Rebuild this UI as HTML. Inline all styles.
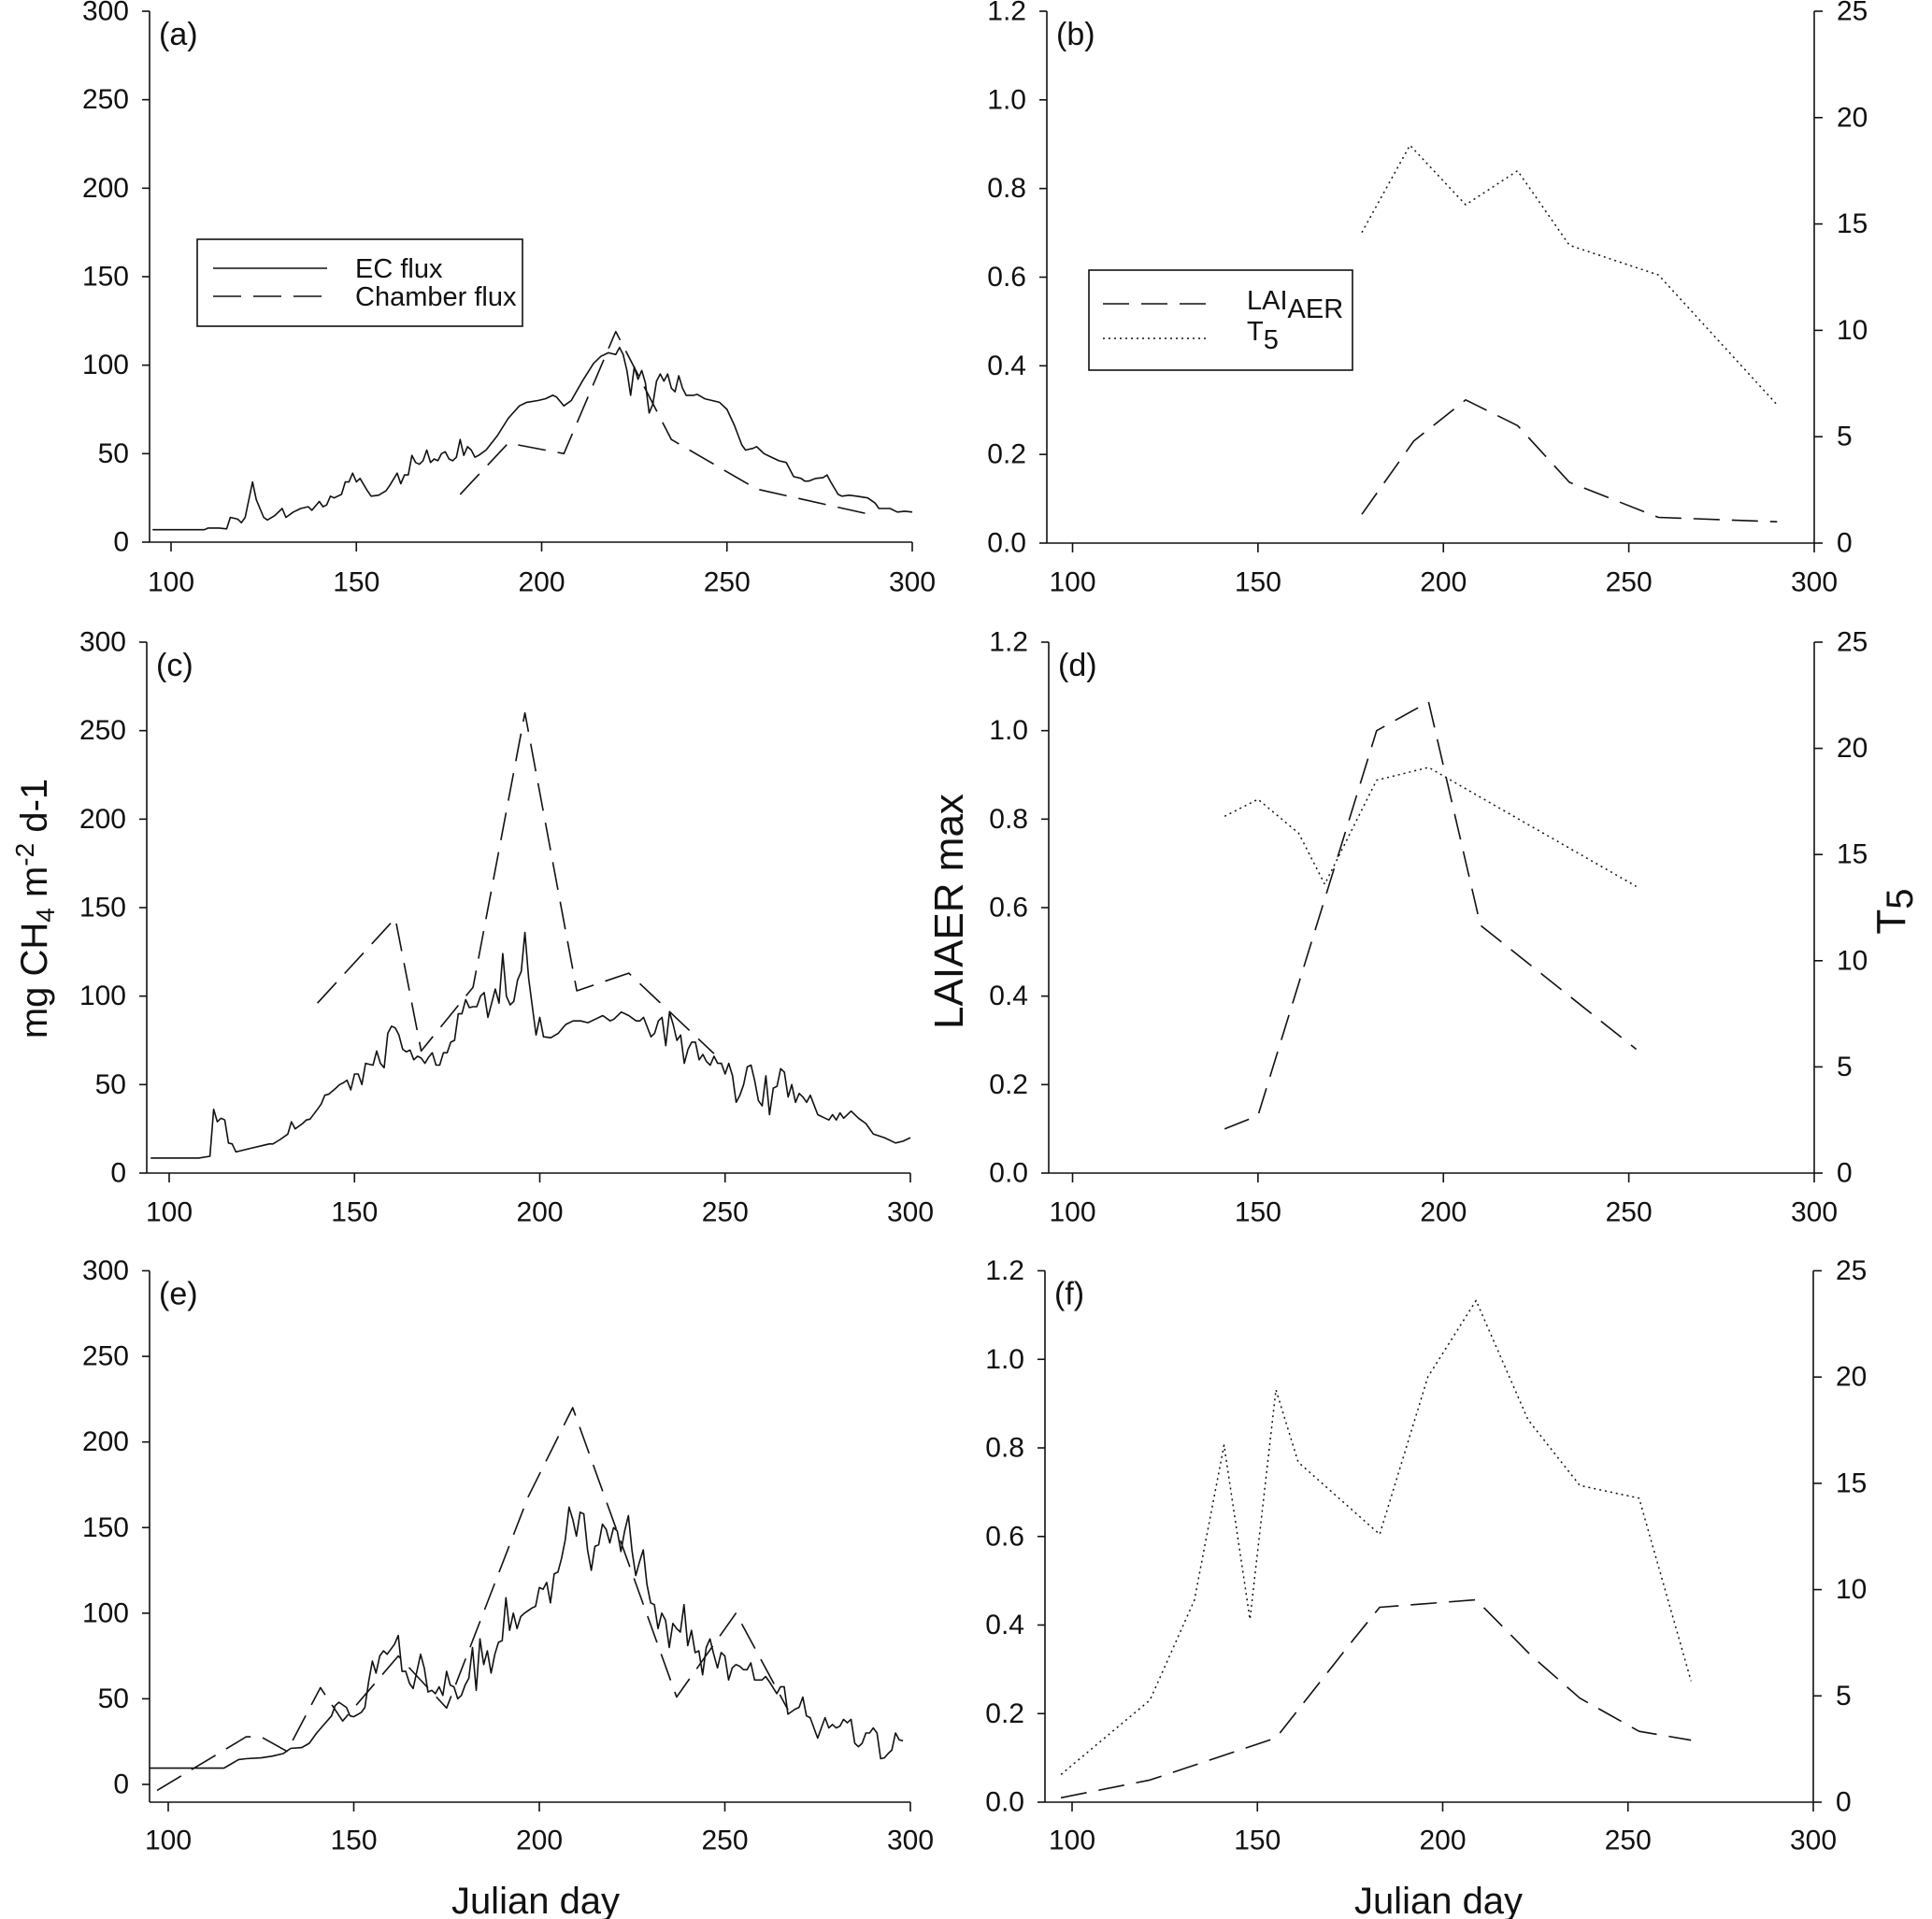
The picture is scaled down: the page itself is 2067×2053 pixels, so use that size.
<!DOCTYPE html>
<html><head><meta charset="utf-8"><title>CH4 flux, LAI and T5</title>
<style>
html,body{margin:0;padding:0;background:#fff;}
svg{display:block;font-family:"Liberation Sans",Arial,sans-serif;}
</style></head>
<body>
<svg id="fig" xmlns="http://www.w3.org/2000/svg" width="2067" height="2053" viewBox="0 0 2067 2053">
<rect x="0" y="0" width="2067" height="2053" fill="#fff"/>
<g id="layer"></g>
<text transform="translate(50,972) rotate(-90)" text-anchor="middle" font-size="40" fill="#111">mg CH<tspan font-size="28" dy="8">4</tspan><tspan dy="-8"> m</tspan><tspan font-size="28" dy="-14">-2</tspan><tspan dy="14"> d-1</tspan></text>
<text transform="translate(1030,975) rotate(-90)" text-anchor="middle" font-size="44" fill="#111">LAIAER max</text>
<text transform="translate(2038,975) rotate(-90)" text-anchor="middle" font-size="44" fill="#111">T<tspan font-size="40" dy="8">5</tspan></text>
<text x="573" y="2047" text-anchor="middle" font-size="40" fill="#111">Julian day</text>
<text x="1539" y="2047" text-anchor="middle" font-size="40" fill="#111">Julian day</text>
</svg>
<script>
// ---------- data ----------
const xTicks = [100,150,200,250,300];
const fluxTicks = [0,50,100,150,200,250,300];
const laiTicks = [0.0,0.2,0.4,0.6,0.8,1.0,1.2];
const laiTickLabels = ["0.0","0.2","0.4","0.6","0.8","1.0","1.2"];
const t5Ticks = [0,5,10,15,20,25];

// Panel (a)
const ecDaysA = [95,109,110,113,115,116,118,119,120,122,123,125,126,128,130,131,133,135,137,138,140,141,142,143,144,146,147,148,149,150,151,153,154,156,158,159,161,162,163,164,165,166,167,168,169,170,171,172,173,174,175,176,177,178,179,180,181,182,183,185,188,191,194,196,199,201,203,204,206,208,211,214,216,218,220,221,222,223,224,225,226,227,228,229,230,231,232,233,234,235,236,237,238,239,241,242,244,246,248,250,252,254,255,257,258,259,260,262,264,266,268,270,271,272,274,276,277,278,280,281,283,285,288,290,291,294,296,298,300];
const ecFluxA = [7,7,8,8,7.5,14,13,11,14,34,24,14,12.5,15,19,14,17,19,20,18,23,20,21,26,25,27,34,34,39,34,36,29,26,26.5,29,32,39,33,38,38,49,45,44,46,52,45,47,46,50,51,47,46,48,58,49,54,52,48,49,52,60,70,77,79,80,81,83,82,77,80,91,101,105,107,106,110,106,97,83,99,92,97,90,73,78,91,95,91,95,87,85,94,87,83,83,83.5,81,80,79,75,66,55,52,53,54,52,50,48,46,45,37,36,34.5,34.5,36,36.5,38,34,27,26,26.5,26,25,22,19,19,17,17.5,17];
const chDaysA = [178,191,206,220,235,258,290];
const chFluxA = [27,56,50,119,58,30,15];

// Panel (b)
const laiDaysB = [178,192,206,220,234,258,290];
const laiB = [0.065,0.23,0.323,0.265,0.137,0.058,0.048];
const t5DaysB = [178,191,206,220,234,258,290];
const t5B = [14.6,18.7,15.9,17.5,14.0,12.6,6.5];

// Panel (c)
const ecDaysC = [95,108,111,112,113,114,115,116,117,118,122,125,127,128,130,132,133,134,136,137,138,140,141,142,143,145,146,147,148,149,150,151,152,153,154,155,156,157,158,159,160,161,162,163,164,165,166,167,168,169,170,171,172,173,174,175,176,177,178,179,180,181,182,183,184,185,186,187,188,189,190,191,192,193,194,195,196,197,199,200,201,203,205,207,209,211,213,215,217,219,220,222,224,226,227,228,230,231,232,233,234,235,236,237,238,239,240,241,242,243,244,245,246,247,248,249,250,251,252,253,254,255,256,257,258,259,260,261,262,263,264,265,266,267,268,269,270,271,272,273,275,277,278,279,280,281,282,284,286,288,290,293,296,298,300];
const ecFluxC = [8.5,8.5,9.5,36,29,31,30,17,16.5,12,14,15.5,16.5,16.5,19,22,29,25,28,30,30.5,36,39,44,44.5,48,50,51,52.5,47,56,56,50,62,61.5,61,69,62,59.5,79,83,82,78,70,68.5,69.5,64,66,65,62,65.5,68,61,61,68,68,74,75,90,90,98,93.5,94,94,100,102,88,96,104,96,124,100,95,97,109,114,136,110,78,88,77,76.5,79,84,86,86,85,87,89,86,87,91,89,86,86,88,77,79,86,88,72,91,84,75,78,62,70,74,74,64,67,63,61,66,62,62,56,62,55,40,44,50,60,61,52,41,38,55,33,48,49,59,57,43,50,40,45,43,40,44,33,31,30,33,30,34,31,35,31,28,22,20,17,18,20];
const chDaysC = [140,161,168,182,196,210,224,247];
const chFluxC = [96,144,69,105,260,103,113,67.5];

// Panel (d)
const laiDaysD = [141,150,182,196,210,252];
const laiD = [0.10,0.13,1.0,1.065,0.56,0.28];
const t5DaysD = [141,150,161,168,182,196,210,252];
const t5D = [16.8,17.6,16.0,13.6,18.5,19.1,17.7,13.5];

// Panel (e)
const ecDaysE = [95,115,117,119,121,125,128,131,133,136,138,140,142,144,145,146,148,149,150,152,153,154,155,156,157,158,159,161,162,163,164,165,166,168,169,170,171,172,173,174,175,176,177,178,179,180,181,182,183,184,185,186,187,188,189,190,191,192,193,194,195,196,198,199,200,201,202,203,204,205,206,207,208,209,210,211,212,213,214,215,216,217,218,219,220,221,222,223,224,225,226,227,228,229,230,231,232,233,234,235,236,237,238,239,240,241,242,243,244,245,246,247,248,249,250,251,252,253,254,255,256,257,258,259,260,261,262,264,265,266,267,269,270,271,272,273,274,275,276,277,278,279,280,281,282,283,284,285,286,287,288,289,290,291,292,293,294,295,296,297,298];
const ecFluxE = [9.5,9.5,12,14.5,15,15.5,16.5,18,21,21.5,24,30,35,40,46,48,45,40,39.5,42,45,60,72,65,75,78,76,82,87,66,66,59,56,76,68,54,55,53,57,52,66,58,57,50,52,58,62,80,55,85,70,78,65,76,83,84,109,90,100,91,98,100,103,104,115,114,118,106,123,124,132,143,162,155,145,159,158,137,125,139,140,152,149,141,150,148,136,148,157,136,122,130,137,117,106,105,91,100,96,80,94,91,89,105,81,90,77,78,64,80,85,76,68,77,75,61,68,70,69,67,67,71,61,61,61,63,60,53,57,57,41,44,45,51,40,39,33,27,33,39,33,35,33,34,38,36,38,24,22,24,30,30,33,30,15,15.5,18,20,30,26,25.5];
const chDaysE = [97,121,125,132,141,147,162,175,197,209,237,253,267];
const chFluxE = [-3.5,27.8,27.8,19.3,56.5,37,75,44.6,168,220,51,100,43.6];

// Panel (f)
const laiDaysF = [97,121,155,176,183,209,224,237,253,267];
const laiF = [0.01,0.05,0.145,0.368,0.44,0.457,0.33,0.235,0.16,0.14];
const t5DaysF = [97,121,133,141,148,155,161,183,196,209,223,237,253,267];
const t5F = [1.3,4.8,9.5,16.8,8.6,19.4,16.0,12.6,20.0,23.6,18.0,14.9,14.3,5.7];

// ---------- drawing ----------
const NS = "http://www.w3.org/2000/svg";
const layer = document.getElementById('layer');
function mk(tag, attrs, parent){
  const e = document.createElementNS(NS, tag);
  for (const k in attrs) e.setAttribute(k, attrs[k]);
  (parent||layer).appendChild(e);
  return e;
}
function makePanel(p){
  const g = mk('g', {});
  
  
  p.g = g;
  p.sx = d => p.x100 + (d - 100) * (p.x300 - p.x100) / 200;
  p.sy = v => p.y0 - (v - p.ymin0) * (p.y0 - p.ytop) / (p.ymax - p.ymin0);
  if (p.right) p.sy2 = v => p.y0 - v * (p.y0 - p.ytop) / 25;
  const yAx = mk('line', {x1:p.ax, y1:p.ytop, x2:p.ax, y2:p.yaxb, stroke:'#111','stroke-width':1.6}, g);
  
  
  const xAx = mk('line', {x1:p.ax, y1:p.yaxb, x2:p.x300, y2:p.yaxb, stroke:'#111','stroke-width':1.6}, g);
  
  
  xTicks.forEach(t => {
    const x = p.sx(t);
    mk('line', {x1:x, y1:p.yaxb, x2:x, y2:p.yaxb+10, stroke:'#111','stroke-width':1.6}, g);
    const tl = mk('text', {x:x, y:p.xlab, 'text-anchor':'middle', 'dominant-baseline':'central', 'font-size':30, fill:'#111'}, g);
    
    
    tl.textContent = t;
  });
  p.yt.forEach((t, i) => {
    const y = p.sy(t);
    mk('line', {x1:p.ax-8, y1:y, x2:p.ax, y2:y, stroke:'#111','stroke-width':1.6}, g);
    const tl = mk('text', {x:p.ax-22, y:y, 'text-anchor':'end', 'dominant-baseline':'central', 'font-size':30, fill:'#111'}, g);
    
    
    tl.textContent = p.ytl[i];
  });
  if (p.right){
    const r = mk('line', {x1:p.x300, y1:p.ytop, x2:p.x300, y2:p.y0, stroke:'#111','stroke-width':1.6}, g);
    
    
    t5Ticks.forEach(t => {
      const y = p.sy2(t);
      mk('line', {x1:p.x300, y1:y, x2:p.x300+9, y2:y, stroke:'#111','stroke-width':1.6}, g);
      const tl = mk('text', {x:p.x300+24, y:y, 'text-anchor':'start', 'dominant-baseline':'central', 'font-size':30, fill:'#111'}, g);
      
      
      tl.textContent = t;
    });
  }
  const lab = mk('text', {x:p.ax+10, y:p.ytop+36, 'font-size':34, fill:'#111'}, g);
  
  
  lab.textContent = '(' + p.id + ')';
  return p;
}
function series(p, days, vals, name, dash, useRight, width){
  const f = useRight ? p.sy2 : p.sy;
  const pts = days.map((d, i) => p.sx(d).toFixed(1) + ',' + f(vals[i]).toFixed(1)).join(' ');
  const attrs = {points:pts, fill:'none', stroke:'#111', 'stroke-width':width||1.6, 'stroke-linejoin':'round'};
  if (dash) attrs['stroke-dasharray'] = dash;
  const pl = mk('polyline', attrs, p.g);
  
  
}
const CH_DASH = '30,13', LAI_DASH = '28,13', T5_DOT = '2,4';

const A = makePanel({id:'a', ax:160, x100:183, x300:976, ytop:12, y0:580, yaxb:580, ymin0:0, ymax:300, yt:fluxTicks, ytl:fluxTicks, xlab:623});
series(A, ecDaysA, ecFluxA, 'ec-flux-line-a', null);
series(A, chDaysA, chFluxA, 'chamber-flux-line-a', CH_DASH);

const B = makePanel({id:'b', ax:1120, x100:1147.5, x300:1941, ytop:12, y0:581, yaxb:581, ymin0:0, ymax:1.2, yt:laiTicks, ytl:laiTickLabels, xlab:623, right:true});
series(B, laiDaysB, laiB, 'lai-line-b', LAI_DASH);
series(B, t5DaysB, t5B, 't5-line-b', T5_DOT, true, 1.5);

const C = makePanel({id:'c', ax:157, x100:181, x300:974, ytop:687, y0:1255, yaxb:1255, ymin0:0, ymax:300, yt:fluxTicks, ytl:fluxTicks, xlab:1297});
series(C, ecDaysC, ecFluxC, 'ec-flux-line-c', null);
series(C, chDaysC, chFluxC, 'chamber-flux-line-c', CH_DASH);

const D = makePanel({id:'d', ax:1122, x100:1147.5, x300:1941, ytop:687, y0:1255, yaxb:1255, ymin0:0, ymax:1.2, yt:laiTicks, ytl:laiTickLabels, xlab:1297, right:true});
series(D, laiDaysD, laiD, 'lai-line-d', LAI_DASH);
series(D, t5DaysD, t5D, 't5-line-d', T5_DOT, true, 1.5);

const E = makePanel({id:'e', ax:160, x100:180, x300:974, ytop:1359.5, y0:1909, yaxb:1928, ymin0:0, ymax:300, yt:fluxTicks, ytl:fluxTicks, xlab:1969});
series(E, ecDaysE, ecFluxE, 'ec-flux-line-e', null);
series(E, chDaysE, chFluxE, 'chamber-flux-line-e', CH_DASH);

const F = makePanel({id:'f', ax:1118, x100:1147, x300:1940, ytop:1359.5, y0:1928, yaxb:1928, ymin0:0, ymax:1.2, yt:laiTicks, ytl:laiTickLabels, xlab:1969, right:true});
series(F, laiDaysF, laiF, 'lai-line-f', LAI_DASH);
series(F, t5DaysF, t5F, 't5-line-f', T5_DOT, true, 1.5);

// ---------- legends ----------
const lgA = mk('g', {});


mk('rect', {x:211, y:256, width:348, height:93, fill:'#fff', stroke:'#111', 'stroke-width':1.6}, lgA);
mk('line', {x1:228, y1:287, x2:350, y2:287, stroke:'#111', 'stroke-width':1.6}, lgA);
mk('line', {x1:228, y1:317, x2:350, y2:317, stroke:'#111', 'stroke-width':1.6, 'stroke-dasharray':'30,13'}, lgA);
const la1 = mk('text', {x:380, y:288, 'dominant-baseline':'central', 'font-size':29, fill:'#111'}, lgA);


la1.textContent = 'EC flux';
const la2 = mk('text', {x:380, y:318, 'dominant-baseline':'central', 'font-size':29, fill:'#111'}, lgA);


la2.textContent = 'Chamber flux';

const lgB = mk('g', {});


mk('rect', {x:1165, y:289, width:282, height:107, fill:'#fff', stroke:'#111', 'stroke-width':1.6}, lgB);
mk('line', {x1:1180, y1:325, x2:1293, y2:325, stroke:'#111', 'stroke-width':1.6, 'stroke-dasharray':'28,13'}, lgB);
mk('line', {x1:1180, y1:362, x2:1293, y2:362, stroke:'#111', 'stroke-width':1.5, 'stroke-dasharray':'2,4'}, lgB);
const lb1 = mk('text', {x:1334, y:322, 'dominant-baseline':'central', 'font-size':29, fill:'#111'}, lgB);


lb1.innerHTML = 'LAI<tspan dy="9">AER</tspan>';
const lb2 = mk('text', {x:1334, y:355, 'dominant-baseline':'central', 'font-size':29, fill:'#111'}, lgB);


lb2.innerHTML = 'T<tspan dy="9">5</tspan>';
</script>
</body></html>
